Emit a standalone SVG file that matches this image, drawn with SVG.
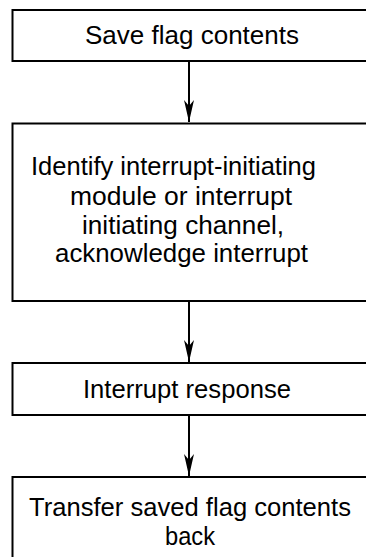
<svg xmlns="http://www.w3.org/2000/svg" width="366" height="557" viewBox="0 0 366 557">
  <style>
    .box { fill: #ffffff; stroke: #000000; stroke-width: 2; }
    .lbl { font-family: "Liberation Sans", Arial, Helvetica, sans-serif; font-size: 26px; fill: #000000; }
    .conn { stroke: #000000; stroke-width: 2; fill: none; }
  </style>
  <defs>
    <marker id="arrow" markerUnits="userSpaceOnUse" markerWidth="24" markerHeight="12" viewBox="0 0 24 12" refX="22" refY="6" orient="auto">
      <path d="M22,6 L0,1 L6,6 L0,11 Z" fill="#000000"/>
    </marker>
  </defs>
  <rect width="366" height="557" fill="#ffffff"/>

  <g id="node-save">
    <rect class="box" x="12.5" y="10" width="370" height="51"/>
    <text class="lbl" x="85" y="44" textLength="214" lengthAdjust="spacingAndGlyphs">Save flag contents</text>
  </g>

  <g id="node-identify">
    <rect class="box" x="12.5" y="123.5" width="370" height="177.5"/>
    <text class="lbl" x="31" y="175" textLength="285" lengthAdjust="spacingAndGlyphs">Identify interrupt-initiating</text>
    <text class="lbl" x="70" y="204.5" textLength="222" lengthAdjust="spacingAndGlyphs">module or interrupt</text>
    <text class="lbl" x="82" y="233.5" textLength="202" lengthAdjust="spacingAndGlyphs">initiating channel,</text>
    <text class="lbl" x="55" y="262" textLength="253" lengthAdjust="spacingAndGlyphs">acknowledge interrupt</text>
  </g>

  <g id="node-response">
    <rect class="box" x="12.5" y="363" width="370" height="52"/>
    <text class="lbl" x="83" y="397.5" textLength="208" lengthAdjust="spacingAndGlyphs">Interrupt response</text>
  </g>

  <g id="node-transfer">
    <rect class="box" x="12.5" y="477" width="370" height="120"/>
    <text class="lbl" x="29" y="515.5" textLength="322" lengthAdjust="spacingAndGlyphs">Transfer saved flag contents</text>
    <text class="lbl" x="165" y="545" textLength="50" lengthAdjust="spacingAndGlyphs">back</text>
  </g>

  <g id="connectors">
    <line class="conn" x1="189" y1="61" x2="189" y2="122" marker-end="url(#arrow)"/>
    <line class="conn" x1="189" y1="301" x2="189" y2="362" marker-end="url(#arrow)"/>
    <line class="conn" x1="189" y1="415" x2="189" y2="476" marker-end="url(#arrow)"/>
  </g>
</svg>
